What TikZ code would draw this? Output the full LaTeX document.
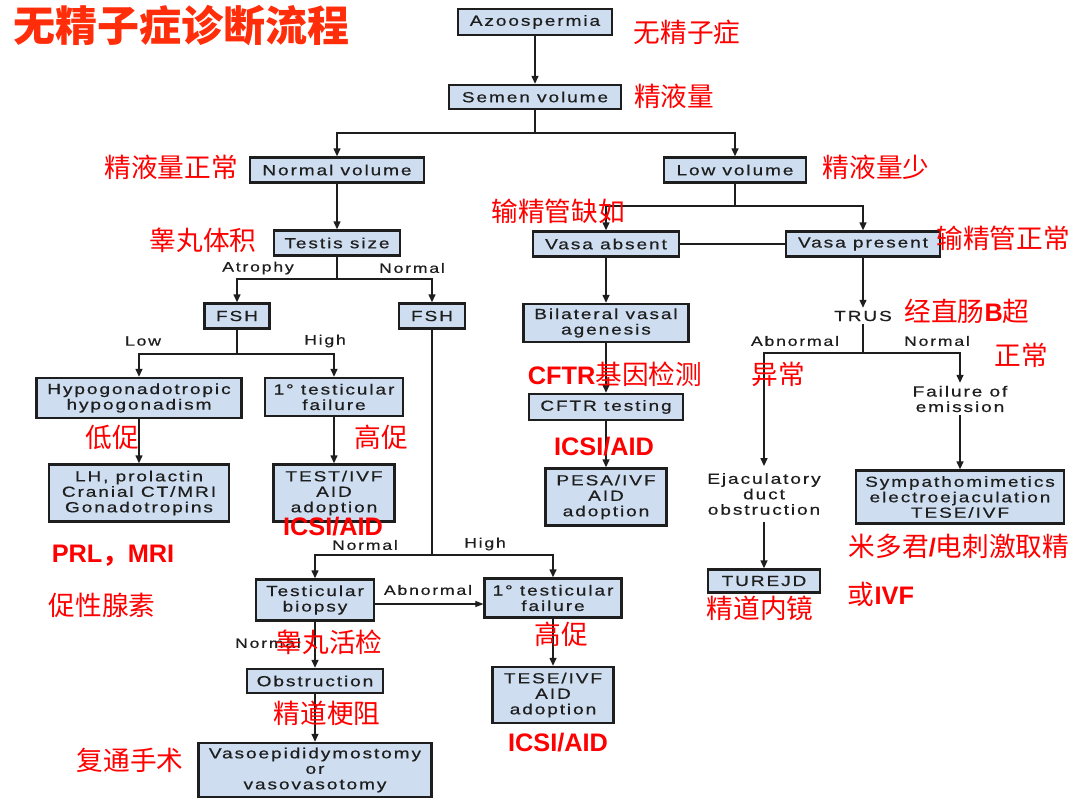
\documentclass[tikz,border=0pt]{standalone}
\usepackage{fontspec}
\usetikzlibrary{arrows.meta}
\newfontfamily\bxf[FakeStretch=1.3,LetterSpace=13,FakeBold=0.6]{Liberation Sans}
\newfontfamily\cjk{Noto Sans CJK SC}
\newfontfamily\rbf{Liberation Sans}
\definecolor{boxblue}{RGB}{206,222,240}
\definecolor{lab}{RGB}{255,0,0}
\definecolor{ttl}{RGB}{255,45,10}
\definecolor{ink}{RGB}{30,30,30}
\newcommand{\RB}{\rbf\bfseries\fontsize{19}{21}\selectfont}
\newcommand{\CN}{\cjk\fontsize{20}{22}\selectfont}
\begin{document}
\begin{tikzpicture}[x=0.75pt,y=-0.75pt,
  sz/.style 2 args={minimum width=#1*0.75pt, minimum height=#2*0.75pt},
  box/.style={draw=ink, line width=1.6pt, fill=boxblue, inner sep=0pt, align=center,
    text=ink, font=\bxf\fontsize{11}{11.6}\selectfont},
  plain/.style={inner sep=2pt, align=center, text=ink, font=\bxf\fontsize{11}{11.6}\selectfont},
  lbl/.style={inner sep=0pt, text=ink, font=\bxf\fontsize{10.2}{11}\selectfont},
  cn/.style={inner sep=0pt, text=lab, font=\CN},
  rb/.style={inner sep=0pt, text=lab, font=\RB},
  conn/.style={draw=ink, line width=1.4pt},
  arr/.style={conn, -{Triangle[length=6pt,width=5pt]}},
  thinarr/.style={draw=ink, line width=0.8pt, -{Triangle[length=6pt,width=4.5pt]}}
]
\path[use as bounding box, fill=white] (0,0) rectangle (1080,803);

% title
\node[inner sep=0pt, text=ttl, font=\cjk\bfseries\fontsize{31.5}{33}\selectfont] (title) at (181,26) {无精子症诊断流程};

% boxes
\node[box, sz={154}{26}] (azo) at (535,22) {Azoospermia};
\node[box, sz={172}{24}] (semen) at (535,97) {Semen volume};
\node[box, sz={174}{25}] (normvol) at (337,170) {Normal volume};
\node[box, sz={142}{25}] (lowvol) at (735,170) {Low volume};
\node[box, sz={126}{25}] (testis) at (337,243) {Testis size};
\node[box, sz={65}{25}] (fsh1) at (237,316) {FSH};
\node[box, sz={66}{25}] (fsh2) at (432,316) {FSH};
\node[box, sz={205}{40}] (hypo) at (139,398) {Hypogonadotropic\\hypogonadism};
\node[box, sz={138}{38}] (fail1) at (334,397) {1\textdegree\ testicular\\failure};
\node[box, sz={180}{57}] (lh) at (139,493) {LH, prolactin\\Cranial CT/MRI\\Gonadotropins};
\node[box, sz={121}{57}] (test) at (334,493) {TEST/IVF\\AID\\adoption};
\node[box, sz={118}{41}] (biopsy) at (315,600) {Testicular\\biopsy};
\node[box, sz={137}{39}] (fail2) at (553,598) {1\textdegree\ testicular\\failure};
\node[box, sz={121}{56}] (tese) at (553,695) {TESE/IVF\\AID\\adoption};
\node[box, sz={136}{24}] (obst) at (315,681) {Obstruction};
\node[box, sz={233}{54}] (vaso) at (315,770) {Vasoepididymostomy\\or\\vasovasotomy};
\node[box, sz={146}{25}] (vabs) at (606,244) {Vasa absent};
\node[box, sz={154}{25}] (vpres) at (863,244) {Vasa present};
\node[box, sz={165}{38}] (bil) at (606,323) {Bilateral vasal\\agenesis};
\node[box, sz={154}{26}] (cftr) at (606,407) {CFTR testing};
\node[box, sz={121}{57}] (pesa) at (606,497) {PESA/IVF\\AID\\adoption};
\node[box, sz={208}{53}] (symp) at (960,497) {Sympathomimetics\\electroejaculation\\TESE/IVF};
\node[box, sz={112}{23}] (turejd) at (764,581) {TUREJD};
\node[plain] (trus) at (863,316) {TRUS};
\node[plain] (fem) at (960,399) {Failure of\\emission};
\node[plain, inner sep=5pt] (ejac) at (764,494) {Ejaculatory\\duct\\obstruction};

% junctions
\coordinate (j1) at (535,133);
\coordinate (j2) at (337,279);
\coordinate (j3) at (237,354);
\coordinate (j4) at (432,555);
\coordinate (j5) at (735,206);
\coordinate (j6) at (863,353);

% connectors
\draw[arr] (azo) -- (semen);
\draw[conn] (semen.south) -- (j1);
\draw[arr] (j1) -| (normvol);
\draw[arr] (j1) -| (lowvol);
\draw[arr] (normvol) -- (testis);
\draw[conn] (testis.south) -- (j2);
\draw[arr] (j2) -| (fsh1);
\draw[arr] (j2) -| (fsh2);
\draw[conn] (fsh1.south) -- (j3);
\draw[arr] (j3) -| (hypo);
\draw[arr] (j3) -| (fail1);
\draw[arr] (hypo) -- (lh);
\draw[arr] (fail1) -- (test);
\draw[conn] (fsh2.south) -- (j4);
\draw[arr] (j4) -| (biopsy);
\draw[arr] (j4) -| (fail2);
\draw[thinarr] ([yshift=-3pt]biopsy.east) -- ([yshift=-3pt]biopsy.east -| fail2.west);
\draw[arr] (biopsy) -- (obst);
\draw[arr] (obst) -- (vaso);
\draw[arr] (fail2) -- (tese);
\draw[conn] (lowvol.south) -- (j5);
\draw[arr] (j5) -| (vabs);
\draw[arr] (j5) -| (vpres);
\draw[conn, line width=1pt] (vabs.east) -- (vpres.west);
\draw[arr] (vabs) -- (bil);
\draw[arr] (bil) -- (cftr);
\draw[arr] (cftr) -- (pesa);
\draw[arr] (vpres) -- (trus);
\draw[conn] (trus.south) -- (j6);
\draw[arr] (j6) -| (ejac);
\draw[arr] (j6) -| (fem);
\draw[arr] (fem) -- (symp);
\draw[arr] (ejac) -- (turejd);

% branch labels
\node[lbl] (l1) at (258,268) {Atrophy};
\node[lbl] (l2) at (412,268) {Normal};
\node[lbl] (l3) at (143,341) {Low};
\node[lbl] (l4) at (325,341) {High};
\node[lbl] (l5) at (365,545) {Normal};
\node[lbl] (l6) at (485,544) {High};
\node[lbl] (l7) at (428,590) {Abnormal};
\node[lbl] (l8) at (268,643) {Normal};
\node[lbl] (l9) at (795,341) {Abnormal};
\node[lbl] (l10) at (937,341) {Normal};

% red annotations
\node[cn] (c1) at (687,32) {无精子症};
\node[cn] (c2) at (674,96) {精液量};
\node[cn] (c3) at (171,167) {精液量正常};
\node[cn] (c4) at (876,167) {精液量少};
\node[cn] (c5) at (203,240) {睾丸体积};
\node[cn] (c6) at (558,211) {输精管缺如};
\node[cn] (c7) at (1003,238) {输精管正常};
\node[cn] (c8) at (967,311) {经直肠{\RB B}超};
\node[cn] (c9) at (1021,355) {正常};
\node[cn] (c10) at (615,374) {{\RB CFTR}基因检测};
\node[cn] (c11) at (778,374) {异常};
\node[cn] (c12) at (112,437) {低促};
\node[cn] (c13) at (381,437) {高促};
\node[rb] (c14) at (604,447) {ICSI/AID};
\node[rb] (c15) at (333,527) {ICSI/AID};
\node[rb] (c16) at (113,556) {PRL{\cjk\bfseries ，}MRI};
\node[cn] (c17) at (102,605) {促性腺素};
\node[cn] (c18) at (959,546) {米多君{\RB /}电刺激取精};
\node[cn] (c19) at (881,594) {或{\RB IVF}};
\node[cn] (c20) at (760,608) {精道内镜};
\node[cn] (c21) at (329,642) {睾丸活检};
\node[cn] (c22) at (561,634) {高促};
\node[cn] (c23) at (327,713) {精道梗阻};
\node[cn] (c24) at (130,760) {复通手术};
\node[rb] (c25) at (558,743) {ICSI/AID};
\end{tikzpicture}
\end{document}
